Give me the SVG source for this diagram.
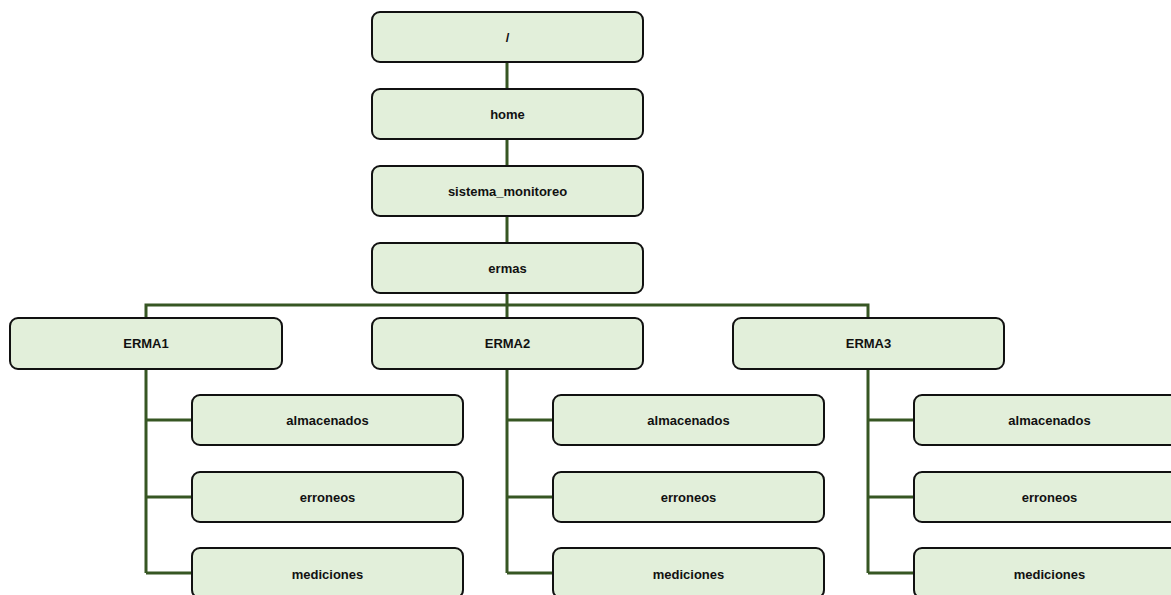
<svg xmlns="http://www.w3.org/2000/svg" width="1171" height="595" viewBox="0 0 1171 595">
  <style>
    .box { fill: #e2efda; stroke: #111; stroke-width: 2; }
    .lbl { font-family: "Liberation Sans", Arial, sans-serif; font-weight: bold; font-size: 13px; fill: #111; text-anchor: middle; dominant-baseline: central; }
    .conn { fill: none; stroke: #375623; stroke-width: 3; }
  </style>
  <rect width="1171" height="595" fill="#fff"/>

  <!-- connectors -->
  <g id="connectors" class="conn">
    <path d="M507 62 V88 M507 140 V166 M507 216 V243 M507 293 V305"/>
    <path d="M146 318 V305 H868 V318 M507 305 V318"/>
    <path d="M146 369 V573 M146 420 H192 M146 497 H192 M146 573 H192"/>
    <path d="M507 369 V573 M507 420 H553 M507 497 H553 M507 573 H553"/>
    <path d="M868 369 V573 M868 420 H914 M868 497 H914 M868 573 H914"/>
  </g>

  <g id="root"><rect class="box" x="372" y="12" width="271" height="50" rx="8"/><text class="lbl" x="507.5" y="37">/</text></g>
  <g id="home"><rect class="box" x="372" y="89" width="271" height="50" rx="8"/><text class="lbl" x="507.5" y="114">home</text></g>
  <g id="sistema_monitoreo"><rect class="box" x="372" y="166" width="271" height="50" rx="8"/><text class="lbl" x="507.5" y="191">sistema_monitoreo</text></g>
  <g id="ermas"><rect class="box" x="372" y="243" width="271" height="50" rx="8"/><text class="lbl" x="507.5" y="268">ermas</text></g>

  <g id="erma1"><rect class="box" x="10" y="318" width="272" height="51" rx="8"/><text class="lbl" x="146" y="343.5">ERMA1</text></g>
  <g id="erma2"><rect class="box" x="372" y="318" width="271" height="51" rx="8"/><text class="lbl" x="507.5" y="343.5">ERMA2</text></g>
  <g id="erma3"><rect class="box" x="733" y="318" width="271" height="51" rx="8"/><text class="lbl" x="868.5" y="343.5">ERMA3</text></g>

  <g id="erma1-almacenados"><rect class="box" x="192" y="395" width="271" height="50" rx="8"/><text class="lbl" x="327.5" y="420">almacenados</text></g>
  <g id="erma1-erroneos"><rect class="box" x="192" y="472" width="271" height="50" rx="8"/><text class="lbl" x="327.5" y="497">erroneos</text></g>
  <g id="erma1-mediciones"><rect class="box" x="192" y="548" width="271" height="50" rx="8"/><text class="lbl" x="327.5" y="574">mediciones</text></g>

  <g id="erma2-almacenados"><rect class="box" x="553" y="395" width="271" height="50" rx="8"/><text class="lbl" x="688.5" y="420">almacenados</text></g>
  <g id="erma2-erroneos"><rect class="box" x="553" y="472" width="271" height="50" rx="8"/><text class="lbl" x="688.5" y="497">erroneos</text></g>
  <g id="erma2-mediciones"><rect class="box" x="553" y="548" width="271" height="50" rx="8"/><text class="lbl" x="688.5" y="574">mediciones</text></g>

  <g id="erma3-almacenados"><rect class="box" x="914" y="395" width="271" height="50" rx="8"/><text class="lbl" x="1049.5" y="420">almacenados</text></g>
  <g id="erma3-erroneos"><rect class="box" x="914" y="472" width="271" height="50" rx="8"/><text class="lbl" x="1049.5" y="497">erroneos</text></g>
  <g id="erma3-mediciones"><rect class="box" x="914" y="548" width="271" height="50" rx="8"/><text class="lbl" x="1049.5" y="574">mediciones</text></g>
</svg>
